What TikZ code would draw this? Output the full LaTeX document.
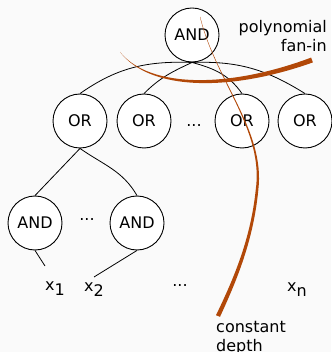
\documentclass[tikz,border=0pt]{standalone}
\usepackage{fontspec}
\setmainfont{DejaVu Sans}
\definecolor{bgc}{HTML}{FAFAFA}
\definecolor{rust}{RGB}{178,72,8}
\begin{document}
\begin{tikzpicture}[x=1pt,y=-1pt,
  gate/.style={circle,draw,line width=0.9pt,fill=white,minimum size=54pt,inner sep=0pt,font=\fontsize{16}{19}\selectfont},
  lbl/.style={inner sep=0pt,font=\fontsize{16}{19}\selectfont},
  wire/.style={line width=0.8pt}]
\fill[bgc] (0,0) rectangle (331,352);
\useasboundingbox (0,0) rectangle (331,352);
% gates
\node[gate] (and0) at (192,35) {AND};
\node[gate] (or1) at (80,121) {OR};
\node[gate] (or2) at (144,121) {OR};
\node[lbl] (dots1) at (194,126) {...};
\node[gate] (or3) at (242,121) {OR};
\node[gate] (or4) at (305,121) {OR};
\node[gate] (andl1) at (35,223) {AND};
\node[lbl] (dots2) at (87,220) {...};
\node[gate] (andl2) at (137,223) {AND};
% inputs
\node[lbl,anchor=base west] (x1) at (45,290) {x\raisebox{-5pt}{1}};
\node[lbl,anchor=base west] (x2) at (84,291) {x\raisebox{-5pt}{2}};
\node[lbl] (dots3) at (180,286) {...};
\node[lbl,anchor=base west] (xn) at (287,291) {x\raisebox{-5pt}{n}};
\coordinate (e1) at (45,266);
\coordinate (e2) at (94,277);
% wires
\draw[wire] (and0.south) to[out=178,in=35] (or1.north);
\draw[wire] (and0.south) to[out=205,in=45] (or2.north);
\draw[wire] (and0.south) to[out=-15,in=125] (or3.north);
\draw[wire] (and0.south) to[out=2,in=148] (or4.north);
\draw[wire] (or1.south) -- (andl1.north);
\draw[wire] (or1.south) to[out=-35,in=120] (andl2.north);
\draw[wire] (andl1.south) -- (e1);
\draw[wire] (andl2.south) -- (e2);
% annotations
\node[lbl,anchor=base east,align=right] (poly) at (327,52) {polynomial\\fan-in};
\node[lbl,anchor=base west,align=left] (cdepth) at (216,351) {constant\\depth};
\fill[rust] (120,52) .. controls (150,89) and (230,88) .. (311.1,57.6)
  -- (312.9,62.4) .. controls (230,92) and (150,91) .. (120,52) -- cycle;
\fill[rust] (200,17) .. controls (214.8,80) and (264.4,130) .. (255.7,190)
  .. controls (250.5,240) and (233,280) .. (216,315.2)
  -- (220,316.8) .. controls (237,280) and (253.5,240) .. (258.3,190)
  .. controls (265.6,130) and (215.4,80) .. (200.3,17) -- cycle;
\end{tikzpicture}
\end{document}
